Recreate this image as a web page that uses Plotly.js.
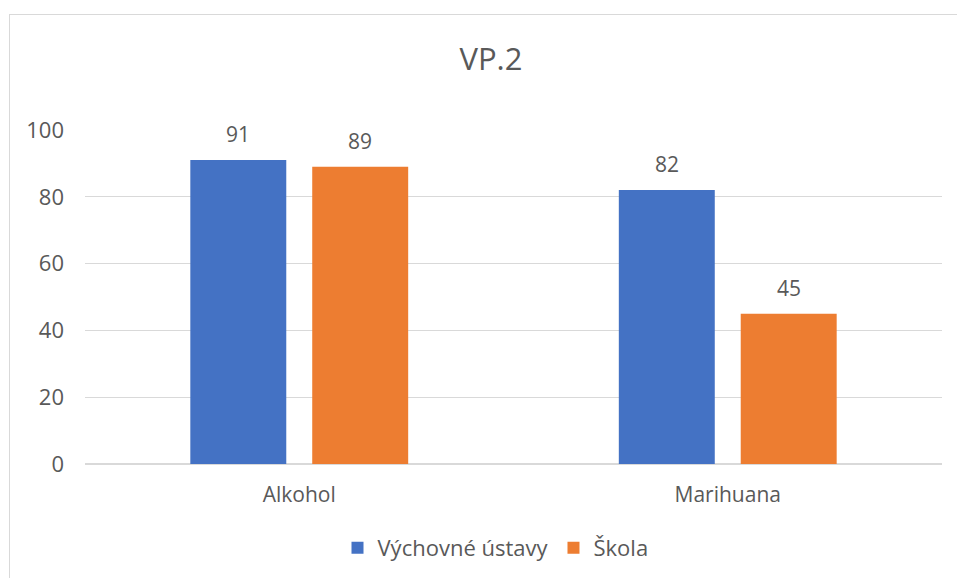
<!DOCTYPE html>
<html><head><meta charset="utf-8">
<script src="https://cdn.plot.ly/plotly-3.0.1.min.js"></script>
<style>
html,body{margin:0;padding:0;background:#fff;}
#chart{position:absolute;left:0;top:0;width:957px;height:578px;}
#frame{position:absolute;left:9px;top:14px;width:1000px;height:1000px;border:1.5px solid #d9d9d9;pointer-events:none;box-sizing:border-box;}
</style></head>
<body>
<div id="chart"></div>
<div id="frame"></div>
<script>
const categories = ["Alkohol", "Marihuana"];
const seriesNames = ["Výchovné ústavy", "Škola"];
const vychovne = [91, 82];
const skola = [89, 45];
const yTicks = [0, 20, 40, 60, 80, 100];

const colors = ["#4472C4", "#ED7D31"];
const seriesValues = [vychovne, skola];
const textFont = {family: "Open Sans, sans-serif", size: 21, color: "#595959"};

const traces = seriesValues.map((vals, i) => ({
  type: "bar", name: seriesNames[i], x: categories, y: vals,
  marker: {color: colors[i]}, hoverinfo: "none"
}));

const annotations = [];
seriesValues.forEach((vals, i) => {
  vals.forEach((v, j) => {
    annotations.push({x: categories[j], y: v, text: String(v), showarrow: false,
      xref: "x", yref: "y", xshift: i === 0 ? -61 : 61, yshift: 26, font: textFont});
  });
});

const layout = {
  width: 957, height: 578,
  margin: {l: 85, r: 15, t: 130, b: 114, autoexpand: false},
  paper_bgcolor: "#fff", plot_bgcolor: "#fff",
  title: {text: "VP.2", x: 0.513, xanchor: "center", y: 0.897, yanchor: "middle", yref: "container",
    font: {family: "Open Sans, sans-serif", size: 31, color: "#595959"}},
  barmode: "group", bargap: 0.431, bargroupgap: 0.213,
  xaxis: {type: "category", tickfont: textFont, showgrid: false, showline: false, zeroline: false,
    ticks: "", ticklabelstandoff: 16, fixedrange: true, automargin: false},
  yaxis: {range: [0, 100], tickvals: yTicks, ticktext: yTicks.map(String),
    tickfont: {family: "Open Sans, sans-serif", size: 22, color: "#595959"},
    showgrid: true, gridcolor: "#d9d9d9", gridwidth: 1.3, zeroline: true, zerolinecolor: "#d9d9d9", zerolinewidth: 1.3,
    showline: false, ticks: "", ticklabelstandoff: 20, fixedrange: true, automargin: false},
  showlegend: true,
  legend: {orientation: "h", x: 0.479, xanchor: "center", y: -0.251, yanchor: "middle",
    font: {family: "Open Sans, sans-serif", size: 22, color: "#595959"}, itemwidth: 30, traceorder: "normal"},
  annotations: annotations
};

Plotly.newPlot("chart", traces, layout, {staticPlot: true, displayModeBar: false});
</script>
</body></html>
